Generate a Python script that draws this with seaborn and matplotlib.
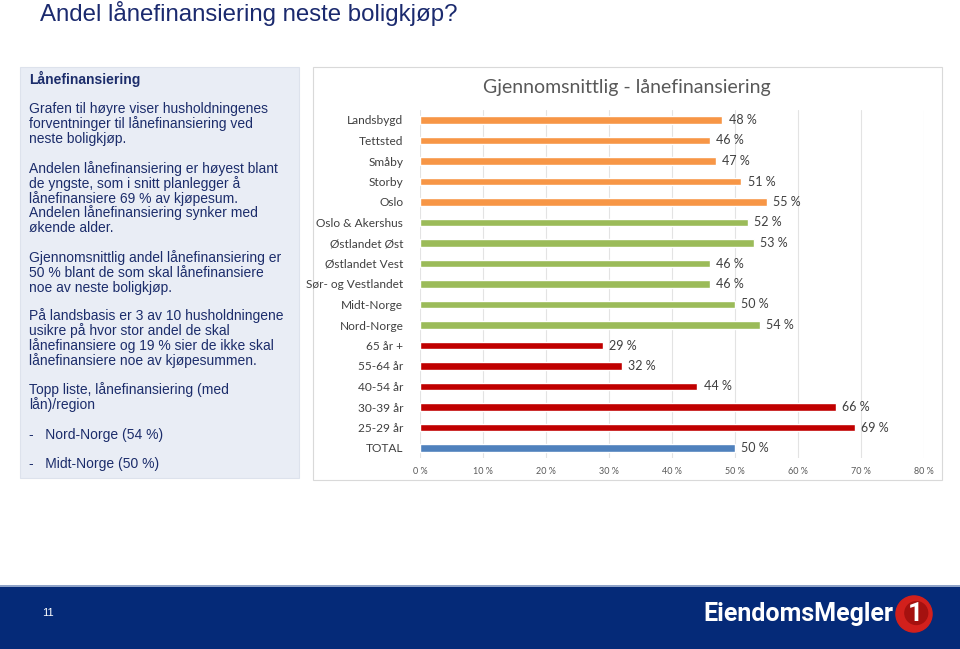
import numpy as np
import pandas as pd
import matplotlib as mpl
from matplotlib import pyplot as plt
from matplotlib.patches import Rectangle, Circle
import seaborn as sns

# chart data
categories = ["Landsbygd", "Tettsted", "Småby", "Storby", "Oslo",
              "Oslo & Akershus", "Østlandet Øst", "Østlandet Vest",
              "Sør- og Vestlandet", "Midt-Norge", "Nord-Norge",
              "65 år +", "55-64 år", "40-54 år", "30-39 år", "25-29 år", "TOTAL"]
values = [48, 46, 47, 51, 55, 52, 53, 46, 46, 50, 54, 29, 32, 44, 66, 69, 50]
groups = ["bosted"] * 5 + ["region"] * 6 + ["alder"] * 5 + ["total"]
group_colors = {"bosted": "#F79646", "region": "#9BBB59", "alder": "#C00000", "total": "#4F81BD"}
x_ticks = [0, 10, 20, 30, 40, 50, 60, 70, 80]

panel_lines = [
    ("Lånefinansiering", True, 79),
    ("Grafen til høyre viser husholdningenes", False, 109),
    ("forventninger til lånefinansiering ved", False, 124),
    ("neste boligkjøp.", False, 139),
    ("Andelen lånefinansiering er høyest blant", False, 169),
    ("de yngste, som i snitt planlegger å", False, 184),
    ("lånefinansiere 69 % av kjøpesum.", False, 199),
    ("Andelen lånefinansiering synker med", False, 213),
    ("økende alder.", False, 228),
    ("Gjennomsnittlig andel lånefinansiering er", False, 258),
    ("50 % blant de som skal lånefinansiere", False, 273),
    ("noe av neste boligkjøp.", False, 288),
    ("På landsbasis er 3 av 10 husholdningene", False, 316),
    ("usikre på hvor stor andel de skal", False, 331),
    ("lånefinansiere og 19 % sier de ikke skal", False, 346),
    ("lånefinansiere noe av kjøpesummen.", False, 361),
    ("Topp liste, lånefinansiering (med", False, 390),
    ("lån)/region", False, 405),
    ("-   Nord-Norge (54 %)", False, 435),
    ("-   Midt-Norge (50 %)", False, 464),
]

df = pd.DataFrame({"kategori": categories, "andel": values, "gruppe": groups})

sns.set_style("white")
plt.rcParams['font.family'] = ['Liberation Sans', 'DejaVu Sans']

W, H = 960, 649
fig = plt.figure(figsize=(W / 100, H / 100), dpi=100)
fig.patch.set_facecolor("white")


def px_rect(x0, y0, x1, y1):
    # pixel box (top-left origin) -> figure fraction rect
    return (x0 / W, 1 - y1 / H, (x1 - x0) / W, (y1 - y0) / H)


def add_box(x0, y0, x1, y1, **kw):
    l, b, w, h = px_rect(x0, y0, x1, y1)
    fig.patches.append(Rectangle((l, b), w, h, transform=fig.transFigure, zorder=-5, **kw))


navy = "#1c2d6b"
fig.text(40 / W, 1 - 13 / H, "Andel lånefinansiering neste boligkjøp?",
         fontsize=17.3, color="#1b2a6e", va="center", ha="left")

# left text panel
add_box(20, 67, 299, 478, facecolor="#e9edf5", edgecolor="#dde2ec", lw=0.8)
for txt, bold, y in panel_lines:
    fig.text(29 / W, 1 - y / H, txt, fontsize=10, color=navy, va="center", ha="left",
             fontweight="bold" if bold else "normal")

# chart frame
add_box(313, 67, 942, 480, facecolor="white", edgecolor="#d9d9d9", lw=0.8)
fig.text(627 / W, 1 - 87 / H, "Gjennomsnittlig - lånefinansiering",
         fontsize=14, color="#595959", va="center", ha="center", family="Lato")

ax = fig.add_axes(px_rect(420, 109.75, 924, 458.25))
ax.set_facecolor("none")
_ = sns.barplot(data=df, x="andel", y="kategori", hue="gruppe", palette=group_colors,
                dodge=False, width=0.38, saturation=1, legend=False, ax=ax, orient="h")
ax.set_xlim(0, 80)
ax.set_ylim(len(categories) - 0.5, -0.5)
ax.set_xticks(x_ticks)
ax.set_xticklabels([f"{t} %" for t in x_ticks], fontsize=6.5, color="#595959", family="Lato")
ax.set_yticks(range(len(categories)))
ax.set_yticklabels(categories, fontsize=8.6, color="#404040", family="Lato")
ax.tick_params(axis="both", length=0)
ax.tick_params(axis="y", pad=12)
ax.tick_params(axis="x", pad=6)
ax.set(xlabel="", ylabel="")
ax.grid(axis="x", color="#e3e3e3", lw=0.8)
ax.set_axisbelow(True)
for s in ax.spines.values():
    s.set_visible(False)
for i, v in enumerate(values):
    ax.text(v + 1.0, i, f"{v} %", va="center", ha="left", fontsize=9,
            color="#404040", family="Lato")

# footer band
add_box(0, 586, 960, 649, facecolor="#052a78", edgecolor="none")
add_box(0, 585, 960, 587, facecolor="#8fa3c8", edgecolor="none")
fig.text(48 / W, 1 - 613 / H, "11", fontsize=8, color="white", va="center", ha="center")
fig.text(893 / W, 1 - 614 / H, "EiendomsMegler", fontsize=18, color="white",
         va="center", ha="right", fontweight="bold", family="Roboto")

lax = fig.add_axes(px_rect(894, 595, 934, 633))
lax.set_xlim(-1, 1)
lax.set_ylim(-1, 1)
lax.set_aspect("equal")
lax.axis("off")
lax.add_patch(Circle((0, 0), 0.95, color="#d2201c"))
lax.add_patch(Circle((0.12, 0.05), 0.6, color="#a5110f"))
lax.text(0.05, 0.0, "1", color="white", fontsize=19, fontweight="bold",
         ha="center", va="center", family="Roboto")

fig.savefig("out.png", dpi=100)
